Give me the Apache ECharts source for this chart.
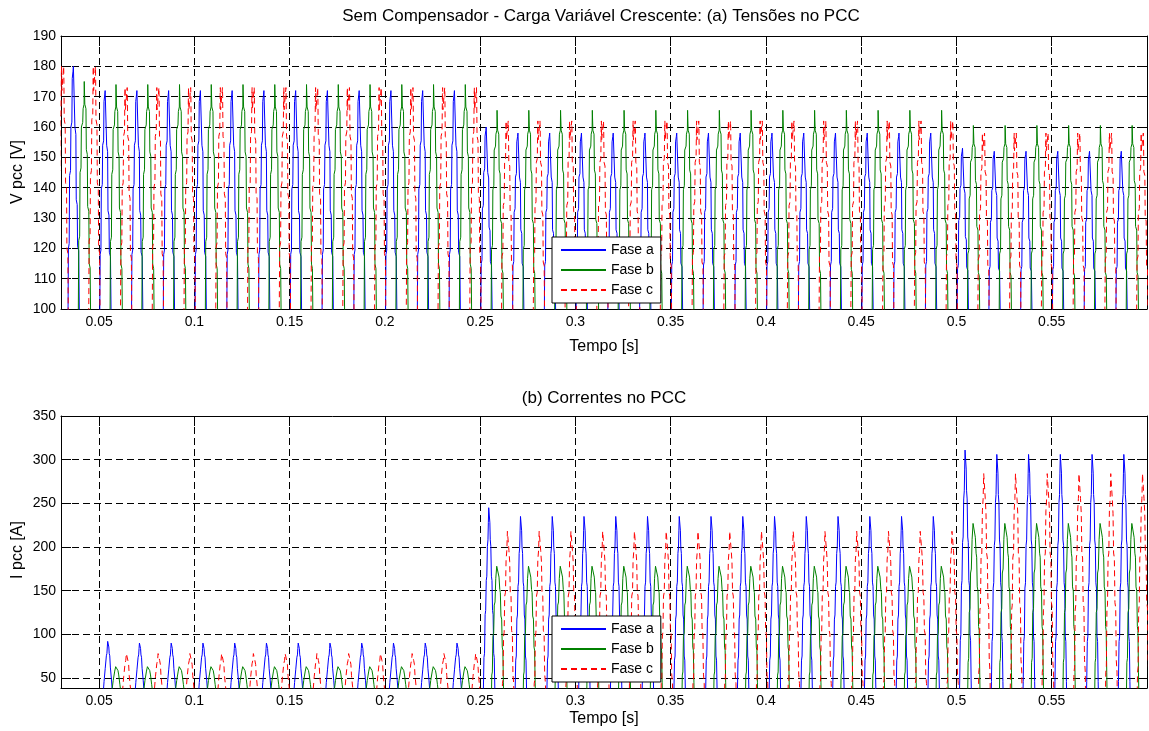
<!DOCTYPE html>
<html>
<head>
<meta charset="utf-8">
<script src="https://cdn.jsdelivr.net/npm/echarts@6/dist/echarts.min.js"></script>
<style>
html,body{margin:0;padding:0;background:#fff;}
#chart{width:1149px;height:731px;}
</style>
</head>
<body>
<div id="chart"></div>
<script>
// ---------------- DATA ----------------
const PERIOD = 1 / 60;               // s, 60 Hz grid
const seriesNames = ['Fase a', 'Fase b', 'Fase c'];
const xTicks = [0.05, 0.1, 0.15, 0.2, 0.25, 0.3, 0.35, 0.4, 0.45, 0.5, 0.55];
const vTicks = [100, 110, 120, 130, 140, 150, 160, 170, 180, 190];
const iTicks = [50, 100, 150, 200, 250, 300, 350];

// voltage: level that the pulses rise from [V]
const vBase = 100;
// time of the first voltage peak of each phase [s]
const vFirstPeakA = 0.0368;
const vFirstPeakB = 0.0424;
const vFirstPeakC = 0.0309;
// voltage peak of every cycle [V]
const vPeaksA = [180,172,172,172,172,172,172,172,172,172,172,172,172,
                 160,158,158,158,158,158,158,158,158,158,158,158,158,158,158,
                 153,152,152,152,152,152];
const vPeaksB = [175,174,174,174,174,174,174,174,174,174,174,174,174,
                 165.5,165.5,165.5,165.5,165.5,165.5,165.5,165.5,165.5,165.5,165.5,165.5,165.5,165.5,165.5,
                 160.5,160.5,160.5,160.5,160.5,160.5];
const vPeaksC = [180,180,173,173,173,173,173,173,173,173,173,173,173,173,
                 162,162,162,162,162,162,162,162,162,162,162,162,162,162,162,
                 158,158,158,158,158,158];
// shape of one voltage pulse: [ms from peak, fraction of the height above vBase]
const vShapeA = [[-3.4,-0.4],[-3.1,0],[-2.9,0.25],[-2.5,0.27],[-2.3,0.55],[-1.8,0.57],[-1.6,0.75],
                 [-1.1,0.77],[-0.9,0.95],[-0.5,0.98],[-0.3,1],[0.3,1],[0.5,0.75],[1.0,0.72],
                 [1.2,0.45],[1.7,0.43],[1.9,0.26],[2.5,0.24],[2.8,0],[3.1,-0.4]];
const vShapeB = [[-3.6,-0.4],[-3.3,0],[-3.1,0.3],[-2.6,0.32],[-2.4,0.6],[-1.9,0.62],[-1.7,0.8],
                 [-1.0,0.82],[-0.8,0.88],[-0.3,0.9],[-0.2,1],[0.0,1],[0.1,0.9],[0.7,0.88],
                 [0.9,0.7],[1.4,0.68],[1.6,0.45],[2.2,0.43],[2.4,0.2],[2.9,0.18],[3.1,0],[3.4,-0.4]];
const vShapeC = [[-3.3,-0.4],[-3.0,0],[-2.8,0.28],[-2.3,0.3],[-2.1,0.55],[-1.6,0.57],[-1.4,0.78],
                 [-0.9,0.8],[-0.7,0.97],[-0.6,1],[-0.45,0.9],[0.35,0.9],[0.5,1],[0.6,0.96],
                 [0.8,0.78],[1.3,0.76],[1.5,0.52],[2.0,0.5],[2.2,0.25],[2.7,0.23],[2.9,0],[3.2,-0.4]];

// current: level that the pulses rise from [A]
const iBase = 0;
// time of the first current peak of each phase [s]
const iFirstPeakA = 0.0547;
const iFirstPeakB = 0.0593;
const iFirstPeakC = 0.0646;
// current peak of every cycle [A]
const iPeaksA = [92,90,90,90,90,90,90,90,90,90,90,90,
                 245,235,235,235,235,235,235,235,235,235,235,235,235,235,235,
                 311,306,306,306,306,306];
const iPeaksB = [63,63,63,63,63,63,63,63,63,63,63,63,
                 178,178,178,178,178,178,178,178,178,178,178,178,178,178,178,
                 227,227,227,227,227,227];
const iPeaksC = [78,78,78,78,78,78,78,78,78,78,78,78,
                 218,218,218,218,218,218,218,218,218,218,218,218,218,218,218,
                 284,284,284,284,284,284];
// shape of one current pulse: [ms from peak, fraction of peak]
const iShapeA = [[-3.4,0],[-3.0,0.15],[-2.7,0.3],[-2.4,0.32],[-2.1,0.5],[-1.8,0.52],[-1.5,0.66],
                 [-1.2,0.68],[-0.9,0.82],[-0.6,0.85],[-0.4,0.93],[-0.2,1],[0.2,1],[0.4,0.93],
                 [0.6,0.85],[0.9,0.82],[1.2,0.68],[1.5,0.66],[1.8,0.52],[2.1,0.5],[2.4,0.32],
                 [2.7,0.3],[3.0,0.15],[3.4,0]];
const iShapeB = [[-3.6,0],[-3.2,0.3],[-2.9,0.32],[-2.6,0.55],[-2.2,0.57],[-1.9,0.75],[-1.5,0.77],
                 [-1.1,0.92],[-0.6,1],[0.2,1],[0.6,0.93],[1.0,0.85],[1.3,0.83],[1.6,0.68],
                 [2.0,0.66],[2.3,0.48],[2.6,0.46],[2.9,0.25],[3.3,0]];
const iShapeC = [[-3.3,0],[-2.9,0.2],[-2.6,0.22],[-2.3,0.45],[-2.0,0.47],[-1.7,0.66],[-1.3,0.68],
                 [-1.0,0.85],[-0.6,0.9],[-0.3,1],[0.2,1],[0.5,0.9],[0.9,0.84],[1.2,0.68],
                 [1.6,0.66],[1.9,0.48],[2.3,0.46],[2.6,0.25],[3.0,0.2],[3.3,0]];

// ---------------- build series from the read values ----------------
function buildWave(firstPeak, peaks, shape, base) {
  const out = [];
  peaks.forEach(function (p, k) {
    const tc = firstPeak + k * PERIOD;
    shape.forEach(function (s) {
      out.push([+(tc + s[0] / 1000).toFixed(6), +(base + (p - base) * s[1]).toFixed(3)]);
    });
  });
  return out;
}
const vA = buildWave(vFirstPeakA, vPeaksA, vShapeA, vBase);
const vB = buildWave(vFirstPeakB, vPeaksB, vShapeB, vBase);
const vC = buildWave(vFirstPeakC, vPeaksC, vShapeC, vBase);
const iA = buildWave(iFirstPeakA, iPeaksA, iShapeA, iBase);
const iB = buildWave(iFirstPeakB, iPeaksB, iShapeB, iBase);
const iC = buildWave(iFirstPeakC, iPeaksC, iShapeC, iBase);

// ---------------- chart ----------------
const FONT = '"Liberation Sans", Arial, Helvetica, sans-serif';
const colors = ['#0000ff', '#008000', '#ff0000'];
const chart = echarts.init(document.getElementById('chart'), null, {renderer: 'canvas'});

function xAx(grid, pos) {
  const main = pos === 'bottom';
  return {
    gridIndex: grid, type: 'value', position: pos, min: 0.03, max: 0.6,
    axisLine: {show: true, onZero: false, lineStyle: {color: '#000', width: 1}},
    axisTick: {show: true, inside: true, length: 10, customValues: xTicks, lineStyle: {color: '#000'}},
    axisLabel: {show: main, customValues: xTicks, color: '#000', fontSize: 14, fontFamily: FONT, margin: 6},
    splitLine: {show: main, lineStyle: {color: '#000', type: [7, 4], width: 1}}
  };
}
function yAx(grid, pos, min, max, ticks) {
  const main = pos === 'left';
  return {
    gridIndex: grid, type: 'value', position: pos, min: min, max: max,
    axisLine: {show: true, onZero: false, lineStyle: {color: '#000', width: 1}},
    axisTick: {show: true, inside: true, length: 10, customValues: ticks, lineStyle: {color: '#000'}},
    axisLabel: {show: main, customValues: ticks, color: '#000', fontSize: 14, fontFamily: FONT, margin: 5},
    splitLine: {show: main, lineStyle: {color: '#000', type: [7, 4], width: 1}}
  };
}
function ser(name, data, xi, yi, idx) {
  return {
    name: name, type: 'line', data: data, xAxisIndex: xi, yAxisIndex: yi,
    symbol: 'none', showSymbol: false, clip: true, animation: false,
    lineStyle: {color: colors[idx], width: 1, type: idx === 2 ? [6, 4] : 'solid'},
    itemStyle: {color: colors[idx]}
  };
}
function legend(top) {
  return {
    data: seriesNames, orient: 'vertical', left: 552, top: top,
    itemWidth: 45, itemHeight: 14, itemGap: 6, padding: [6, 7, 6, 8],
    backgroundColor: '#fff', borderColor: '#000', borderWidth: 1,
    itemStyle: {opacity: 0},
    textStyle: {color: '#000', fontSize: 14, fontFamily: FONT}
  };
}
function txt(x, y, s, size, rot) {
  return {
    type: 'text', x: x, y: y, rotation: rot || 0,
    style: {text: s, fill: '#000', font: size + 'px ' + FONT, textAlign: 'center', textVerticalAlign: 'middle', verticalAlign: 'middle'}
  };
}

chart.setOption({
  animation: false,
  backgroundColor: '#fff',
  grid: [
    {left: 61, right: 2, top: 36, height: 273},
    {left: 61, right: 2, top: 416, height: 272}
  ],
  xAxis: [xAx(0, 'bottom'), xAx(0, 'top'), xAx(1, 'bottom'), xAx(1, 'top')],
  yAxis: [yAx(0, 'left', 100, 190, vTicks), yAx(0, 'right', 100, 190, vTicks),
          yAx(1, 'left', 38.6, 350, iTicks), yAx(1, 'right', 38.6, 350, iTicks)],
  legend: [legend(237), legend(616)],
  series: [
    ser(seriesNames[0], vA, 0, 0, 0), ser(seriesNames[1], vB, 0, 0, 1), ser(seriesNames[2], vC, 0, 0, 2),
    ser(seriesNames[0], iA, 2, 2, 0), ser(seriesNames[1], iB, 2, 2, 1), ser(seriesNames[2], iC, 2, 2, 2)
  ],
  graphic: [
    txt(601, 16, 'Sem Compensador - Carga Variável Crescente: (a) Tensões no PCC', 17),
    txt(604, 347, 'Tempo [s]', 16),
    txt(604, 398, '(b) Correntes no PCC', 17),
    txt(604, 719, 'Tempo [s]', 16),
    txt(18, 172, 'V pcc [V]', 16, Math.PI / 2),
    txt(18, 550, 'I pcc [A]', 16, Math.PI / 2)
  ]
});
</script>
</body>
</html>
